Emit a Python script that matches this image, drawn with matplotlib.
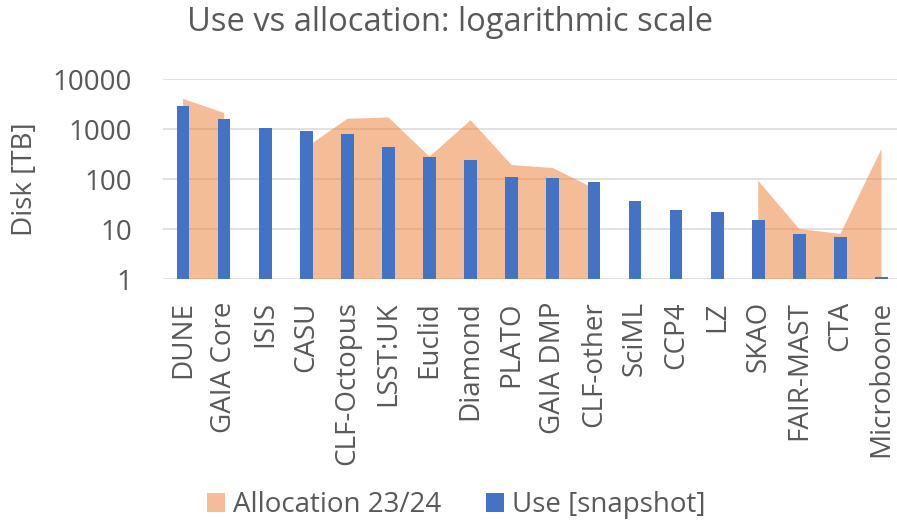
import numpy as np
import matplotlib
matplotlib.use("Agg")
import matplotlib.pyplot as plt
from matplotlib.patches import Patch

categories = ["DUNE", "GAIA Core", "ISIS", "CASU", "CLF-Octopus", "LSST:UK", "Euclid",
              "Diamond", "PLATO", "GAIA DMP", "CLF-other", "SciML", "CCP4", "LZ",
              "SKAO", "FAIR-MAST", "CTA", "Microboone"]
allocation = [4000, 2100, np.nan, 430, 1600, 1700, 280, 1500, 190, 166, 65,
              np.nan, np.nan, np.nan, 92, 10, 8, 400]
use = [2900, 1560, 1030, 910, 790, 435, 275, 244, 108, 105, 87, 36, 24.5, 22,
       15.4, 8, 6.9, 1.1]
yticks = [1, 10, 100, 1000, 10000]

plt.rcParams['font.family'] = ['Open Sans', 'DejaVu Sans']
TXT = '#595959'

fig = plt.figure(figsize=(8.97, 5.25), dpi=100)
W, H = 897, 525
left, right, top, bottom = 162.5, 897, 79, 279
ax = fig.add_axes([left / W, 1 - bottom / H, (right - left) / W, (bottom - top) / H])

x = np.arange(len(categories))
alloc = np.array(allocation, dtype=float)
ax.set_yscale('log')
ax.fill_between(x, alloc, 1, color='#ED7D31', alpha=0.5, linewidth=0, zorder=2,
                label='Allocation 23/24')
ax.bar(x, use, width=0.31, color='#4472C4', zorder=3, label='Use [snapshot]')

ax.set_ylim(1, 10000)
ax.set_xlim(-0.5, 17 + 15.5 / 41.09)
ax.set_yticks(yticks)
ax.set_yticklabels([str(v) for v in yticks])
ax.yaxis.set_minor_locator(matplotlib.ticker.NullLocator())
ax.grid(axis='y', color='#D9D9D9', linewidth=1.1, zorder=1)
ax.set_axisbelow(True)
for s in ax.spines.values():
    s.set_visible(False)
ax.tick_params(axis='y', length=0, pad=22, labelsize=20, labelcolor=TXT)
ax.set_xticks(x)
ax.set_xticklabels(categories, rotation=90)
ax.tick_params(axis='x', length=0, pad=16, labelsize=20, labelcolor=TXT)
ax.set_ylabel('Disk [TB]', fontsize=20, color=TXT, labelpad=10)

fig.text(450 / W, 1 - 31 / H, 'Use vs allocation: logarithmic scale', ha='center', va='baseline',
         fontsize=23.5, color=TXT)

handles = [Patch(facecolor='#ED7D31', alpha=0.5, edgecolor='none'),
           Patch(facecolor='#4472C4', edgecolor='none')]
fig.legend(handles, ['Allocation 23/24', 'Use [snapshot]'], loc='center',
           bbox_to_anchor=(456 / W, 1 - 505 / H), ncol=2, frameon=False,
           fontsize=20, labelcolor=TXT, handlelength=0.65, handleheight=0.65,
           handletextpad=0.3, columnspacing=1.6, borderpad=0)

fig.savefig('out.png', dpi=100)
